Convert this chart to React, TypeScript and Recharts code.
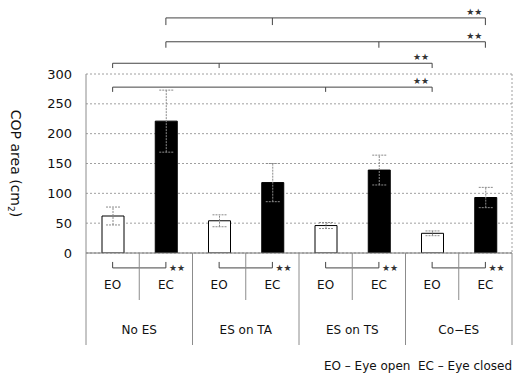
import React from 'react';
import {
  BarChart,
  Bar,
  XAxis,
  YAxis,
  CartesianGrid,
  ErrorBar,
  Cell,
  ReferenceLine,
} from 'recharts';

// groups of stimulation and eye condition
const groups = ['No ES', 'ES on TA', 'ES on TS', 'Co\u2212ES'];
const conditions = ['EO', 'EC'];
const means = [62, 221, 54, 118, 46, 139, 33, 93];
const errors = [15, 52, 10, 32, 5, 25, 4, 17];
const yTicks = [0, 50, 100, 150, 200, 250, 300];

const data = means.map((m, i) => ({
  key: `${groups[Math.floor(i / 2)]}|${conditions[i % 2]}`,
  group: groups[Math.floor(i / 2)],
  cond: conditions[i % 2],
  mean: m,
  err: errors[i],
}));
const keys = data.map((d) => d.key);

// significance brackets above the plot (indices into data, levels in y units)
const upperBrackets = [
  { from: 1, via: 3, to: 7, level: 394, foot: 382 },
  { from: 1, via: 5, to: 7, level: 354, foot: 344 },
  { from: 0, via: 2, to: 6, level: 318, foot: 310 },
  { from: 0, via: 4, to: 6, level: 278, foot: 270 },
];
// EO vs EC bracket under each group
const lowerBrackets = groups.map((_, g) => ({ from: g * 2, to: g * 2 + 1, level: -25, foot: -15 }));

const FONT = 'DejaVu Sans';
const LINE = '#8c8c8c';

const TopStars = ({ viewBox }: any) => (
  <text x={viewBox.x + viewBox.width - 3} y={viewBox.y - 3} textAnchor="end" fontSize={9} fill="#333" fontFamily={FONT}>
    ★★
  </text>
);

const BottomStars = ({ viewBox }: any) => (
  <text x={viewBox.x + viewBox.width + 3} y={viewBox.y + 3} textAnchor="start" fontSize={9} fill="#333" fontFamily={FONT}>
    ★★
  </text>
);

const TableTick = (props: any) => {
  const { x, y, payload } = props;
  const d = data[payload.index];
  const half = payload.offset || 26.6;
  return (
    <g fontFamily={FONT}>
      <text x={x} y={y + 36} textAnchor="middle" fontSize={12} fill="#111">
        {d.cond}
      </text>
      {payload.index === 0 && <line x1={x - half} x2={x - half} y1={y} y2={y + 92} stroke={LINE} />}
      {d.cond === 'EO' ? (
        <line x1={x + half} x2={x + half} y1={y} y2={y + 47} stroke={LINE} />
      ) : (
        <>
          <line x1={x + half} x2={x + half} y1={y} y2={y + 92} stroke={LINE} />
          <text x={x - half} y={y + 81} textAnchor="middle" fontSize={12} fill="#111">
            {d.group}
          </text>
        </>
      )}
    </g>
  );
};

const YTitle = ({ viewBox }: any) => {
  const cx = viewBox.x + 16;
  const cy = viewBox.y + viewBox.height / 2;
  return (
    <text
      x={cx}
      y={cy}
      transform={`rotate(90, ${cx}, ${cy})`}
      textAnchor="middle"
      dominantBaseline="central"
      fontSize={14}
      fontFamily={FONT}
      fill="#111"
    >
      COP area (cm
      <tspan fontSize={9} dy={5}>2</tspan>
      <tspan dy={-5}>)</tspan>
    </text>
  );
};

const bracketLines = (b: any, i: number, prefix: string, stars: any) => {
  const pts = [b.from, b.via, b.to].filter((p) => p !== undefined);
  return [
    <ReferenceLine
      key={`${prefix}h${i}`}
      ifOverflow="visible"
      stroke="#444"
      segment={[
        { x: keys[b.from], y: b.level },
        { x: keys[b.to], y: b.level },
      ]}
      label={stars}
    />,
    ...pts.map((p: number) => (
      <ReferenceLine
        key={`${prefix}v${i}-${p}`}
        ifOverflow="visible"
        stroke="#444"
        segment={[
          { x: keys[p], y: b.level },
          { x: keys[p], y: b.foot },
        ]}
      />
    )),
  ];
};

export default function App() {
  return (
    <div style={{ position: 'absolute', left: 0, top: 0, width: 514, height: 376, background: '#fff' }}>
      <BarChart
        width={514}
        height={376}
        data={data}
        margin={{ top: 74, right: 2, left: 0, bottom: 23 }}
      >
        <CartesianGrid
          stroke="#a0a0a0"
          strokeDasharray="2 2"
          verticalCoordinatesGenerator={({ offset }: any) => [offset.left + offset.width]}
        />
        <XAxis
          dataKey="key"
          height={100}
          interval={0}
          tickLine={false}
          tickSize={0}
          tickMargin={0}
          axisLine={{ stroke: '#777' }}
          tick={<TableTick />}
        />
        <YAxis
          width={86}
          domain={[0, 300]}
          allowDataOverflow
          ticks={yTicks}
          tickLine={false}
          tickSize={6}
          tickMargin={8}
          axisLine={{ stroke: LINE }}
          tick={{ fill: '#111', fontSize: 13, fontFamily: FONT }}
          label={<YTitle />}
        />
        <Bar dataKey="mean" barSize={22} stroke="#000" strokeWidth={1} isAnimationActive={false}>
          {data.map((d) => (
            <Cell key={d.key} fill={d.cond === 'EO' ? '#fff' : '#000'} />
          ))}
          <ErrorBar dataKey="err" width={7} stroke="#8a8a8a" strokeWidth={1} strokeDasharray="2 1" />
        </Bar>
        {upperBrackets.flatMap((b, i) => bracketLines(b, i, 'u', <TopStars />))}
        {lowerBrackets.flatMap((b, i) => bracketLines(b, i, 'l', <BottomStars />))}
      </BarChart>
      <div
        style={{
          position: 'absolute',
          right: 2,
          top: 359,
          fontFamily: FONT,
          fontSize: 12,
          color: '#111',
          whiteSpace: 'pre',
        }}
      >
        {'EO \u2013 Eye open  EC \u2013 Eye closed'}
      </div>
    </div>
  );
}
